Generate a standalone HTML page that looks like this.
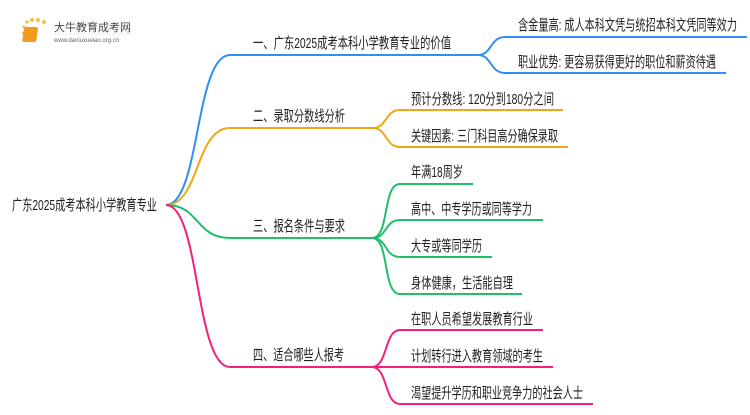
<!DOCTYPE html>
<html><head><meta charset="utf-8"><style>
html,body{margin:0;padding:0;background:#fff;}
svg text{font-family:"Liberation Sans","Noto Sans CJK SC",sans-serif;fill:#222;}
</style></head><body>
<svg width="750" height="410" viewBox="0 0 750 410" xmlns="http://www.w3.org/2000/svg">
<g>
<circle cx="24" cy="27" r="1.5" fill="#f6c04a"/><circle cx="27" cy="22" r="1.8" fill="#f6c04a"/><circle cx="32" cy="20" r="2" fill="#f6c04a"/><circle cx="38" cy="20" r="2" fill="#f6c04a"/><circle cx="44" cy="22" r="2" fill="#f6c04a"/><circle cx="23" cy="33" r="1.3" fill="#f6c04a"/><circle cx="24" cy="41" r="1.2" fill="#f6c04a"/>
<rect x="28" y="27" width="14" height="15" rx="2" fill="#f29a1f" transform="skewX(-8)"/>
<text x="54" y="31" font-size="11" style="fill:#444">大牛教育成考网</text>
<text x="54" y="42" font-size="6" style="fill:#666">www.daniuxueiao.org.cn</text>
<line x1="54" y1="34" x2="132" y2="34" stroke="#ddd" stroke-width="0.6"/>
</g>
<g fill="none" stroke-width="2">
<path d="M166 205 C200 205 195 55 230 55 L478 55" stroke="#2f8ff5"/>
<path d="M166 205 C200 205 195 128 230 128 L373 128" stroke="#f3a613"/>
<path d="M166 205 C200 205 195 238 230 238 L372 238" stroke="#1fc06a"/>
<path d="M166 205 C200 205 195 367 230 367 L372 367" stroke="#f2207a"/>
<path d="M478 55 C492 55 490 37 505 37 L747 37" stroke="#2f8ff5"/>
<path d="M478 55 C492 55 490 73 505 73 L726 73" stroke="#2f8ff5"/>
<path d="M373 128 C387 128 385 110 400 110 L563 110" stroke="#f3a613"/>
<path d="M373 128 C387 128 385 147 400 147 L568 147" stroke="#f3a613"/>
<path d="M372 238 C390 238 382 184 400 184 L473 184" stroke="#1fc06a"/>
<path d="M372 238 C388 238 384 220 400 220 L543 220" stroke="#1fc06a"/>
<path d="M372 238 C388 238 384 257 400 257 L492 257" stroke="#1fc06a"/>
<path d="M372 238 C390 238 382 294 400 294 L522 294" stroke="#1fc06a"/>
<path d="M372 367 C388 367 384 330 400 330 L543 330" stroke="#f2207a"/>
<path d="M372 367 L553 367" stroke="#f2207a"/>
<path d="M372 367 C388 367 384 404 400 404 L593 404" stroke="#f2207a"/>
</g>
<g font-size="15">
<text x="12" y="210" textLength="145" lengthAdjust="spacingAndGlyphs">广东2025成考本科小学教育专业</text>
<text x="253" y="48" textLength="198" lengthAdjust="spacingAndGlyphs">一、广东2025成考本科小学教育专业的价值</text>
<text x="253" y="121" textLength="92" lengthAdjust="spacingAndGlyphs">二、录取分数线分析</text>
<text x="253" y="231" textLength="92" lengthAdjust="spacingAndGlyphs">三、报名条件与要求</text>
<text x="253" y="360" textLength="91" lengthAdjust="spacingAndGlyphs">四、适合哪些人报考</text>
<text x="518" y="30" textLength="219" lengthAdjust="spacingAndGlyphs">含金量高: 成人本科文凭与统招本科文凭同等效力</text>
<text x="518" y="67" textLength="198" lengthAdjust="spacingAndGlyphs">职业优势: 更容易获得更好的职位和薪资待遇</text>
<text x="411" y="104" textLength="143" lengthAdjust="spacingAndGlyphs">预计分数线: 120分到180分之间</text>
<text x="411" y="141" textLength="147" lengthAdjust="spacingAndGlyphs">关键因素: 三门科目高分确保录取</text>
<text x="411" y="177" textLength="52" lengthAdjust="spacingAndGlyphs">年满18周岁</text>
<text x="411" y="214" textLength="121" lengthAdjust="spacingAndGlyphs">高中、中专学历或同等学力</text>
<text x="411" y="251" textLength="71" lengthAdjust="spacingAndGlyphs">大专或等同学历</text>
<text x="411" y="288" textLength="102" lengthAdjust="spacingAndGlyphs">身体健康，生活能自理</text>
<text x="411" y="324" textLength="122" lengthAdjust="spacingAndGlyphs">在职人员希望发展教育行业</text>
<text x="411" y="361" textLength="132" lengthAdjust="spacingAndGlyphs">计划转行进入教育领域的考生</text>
<text x="411" y="398" textLength="172" lengthAdjust="spacingAndGlyphs">渴望提升学历和职业竞争力的社会人士</text>
</g>
</svg>
</body></html>
